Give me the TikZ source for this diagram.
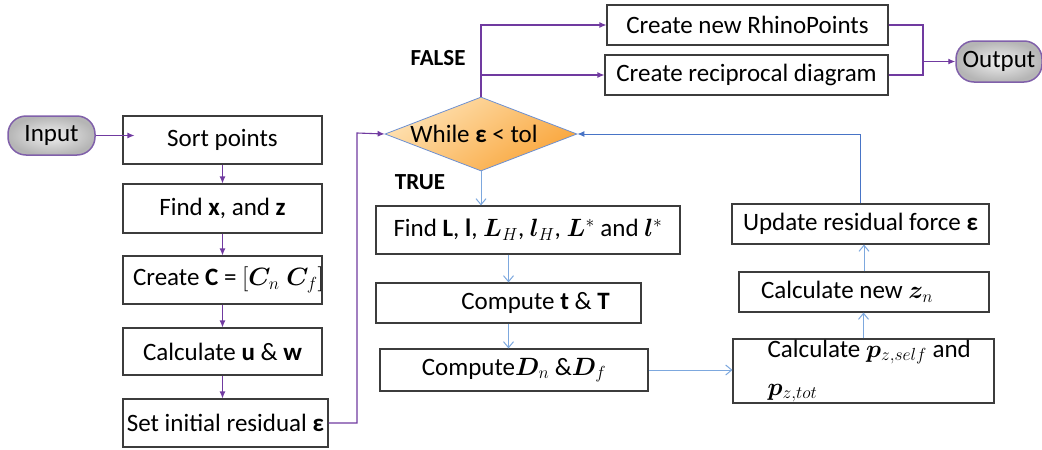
\documentclass[tikz,border=0pt]{standalone}
\usepackage{fix-cm}
\usepackage{amsmath,bm}
\usepackage{fontspec}
\setmainfont{Carlito}
\usetikzlibrary{shapes.geometric,arrows.meta}

\definecolor{flowpurple}{RGB}{112,58,160}
\definecolor{flowblue}{RGB}{125,168,222}
\definecolor{loopblue}{RGB}{72,116,198}
\definecolor{boxline}{RGB}{60,60,60}
\definecolor{orangelight}{RGB}{254,226,180}
\definecolor{orangedark}{RGB}{249,165,58}
\definecolor{pillborder}{RGB}{128,96,170}

\tikzset{
  txt/.style={font=\fontsize{25}{29}\selectfont},
  stepbox/.style={draw=boxline, line width=1.1pt, rectangle, inner sep=0pt, txt},
  pill/.style={draw=pillborder, line width=1.5pt, rectangle, rounded corners=18pt,
    inner sep=0pt, inner color=gray!12, outer color=gray!58, txt},
  decision/.style={diamond, draw=loopblue!80, line width=0.8pt, inner sep=0pt,
    top color=orangelight, bottom color=orangedark, shading angle=35},
  parr/.style={draw=flowpurple, line width=1.1pt, -{Latex[length=7pt,width=6pt]}},
  pline/.style={draw=flowpurple, line width=1.1pt},
  barr/.style={draw=flowblue, line width=1pt, -{Straight Barb[length=6pt,width=10pt]}},
  loop/.style={draw=loopblue, line width=1pt, -{Latex[length=7pt,width=6pt]}},
  tag/.style={font=\fontsize{23}{27}\selectfont\bfseries},
}

\begin{document}
\begin{tikzpicture}[x=1pt,y=-1pt]
\useasboundingbox (0,0) rectangle (1042,450);

% start / end terminals
\node[pill, minimum width=87pt, minimum height=39pt] (input) at (51.5,135.5) {Input};
\node[pill, minimum width=86pt, minimum height=41pt] (output) at (999,61.5) {Output};

% preparation column
\node[stepbox, minimum width=199pt, minimum height=48pt] (sort) at (222.5,140) {Sort points};
\node[stepbox, minimum width=199pt, minimum height=49pt] (findxz) at (222.5,208.5) {Find \textbf{x}, and \textbf{z}};
\node[stepbox, minimum width=199pt, minimum height=48pt,
  label={[xshift=6pt, txt]center:Create \textbf{C} = $[\bm{C}_n\;\bm{C}_f]$}] (createC) at (222.5,280) {};
\node[stepbox, minimum width=199pt, minimum height=47pt] (calcuw) at (222.5,351.5) {Calculate \textbf{u} \& \textbf{w}};
\node[stepbox, minimum width=205pt, minimum height=48pt] (setres) at (225.5,423) {Set initial residual \textbf{ε}};

% loop test
\node[decision, minimum width=192pt, minimum height=74pt,
  label={[xshift=-7pt, txt]center:While \textbf{ε} < tol}] (dia) at (481,134) {};

% exit branch
\node[stepbox, minimum width=281pt, minimum height=40pt] (rhino) at (747.5,25) {Create new RhinoPoints};
\node[stepbox, minimum width=283pt, minimum height=40pt] (recip) at (746.5,75) {Create reciprocal diagram};

% loop body
\node[stepbox, minimum width=304pt, minimum height=48pt] (findL) at (528,230)
  {Find \textbf{L}, \textbf{l}, $\bm{L}_H$, $\bm{l}_H$, $\bm{L}^*$ and $\bm{l}^*$};
\node[stepbox, minimum width=265pt, minimum height=40pt,
  label={[xshift=27pt, txt]center:Compute \textbf{t} \& \textbf{T}}] (computeT) at (508.5,303) {};
\node[stepbox, minimum width=268pt, minimum height=42pt] (computeD) at (514,370)
  {Compute$\bm{D}_n\ \&\bm{D}_f$};
\node[stepbox, minimum width=261pt, minimum height=64pt,
  label={[anchor=west, xshift=35pt, inner sep=0pt, align=left,
    font=\fontsize{25}{38}\selectfont]west:Calculate $\bm{p}_{z,self}$ and\\$\bm{p}_{z,tot}$}] (calcp) at (863.5,371) {};
\node[stepbox, minimum width=250pt, minimum height=40pt,
  label={[xshift=-17pt, txt]center:Calculate new $\bm{z}_n$}] (newz) at (864,292) {};
\node[stepbox, minimum width=257pt, minimum height=40pt] (update) at (860.5,224) {Update residual force \textbf{ε}};

% branch labels
\node[tag] (lfalse) at (438,58) {FALSE};
\node[tag] (ltrue) at (420,182) {TRUE};

% preparation connectors
\draw[parr, shorten >=-12pt] (input.east) -- (input.east -| sort.west);
\draw[parr] (sort.south) -- (findxz.north);
\draw[parr] (findxz.south) -- (createC.north);
\draw[parr] (createC.south) -- (calcuw.north);
\draw[parr] (calcuw.south) -- (calcuw.south |- setres.north);
\coordinate (upturn) at (357,133);
\draw[parr] (setres.east) -| (upturn) -- (dia.west);

% exit connectors
\draw[parr] (dia.north) |- (rhino.west);
\draw[parr] (dia.north |- recip.west) -- (recip.west);
\coordinate (merge) at (923,61.5);
\draw[pline] (rhino.east) -| (merge) |- (recip.east);
\draw[parr] (merge) -- (output.west);

% loop connectors
\draw[barr] (dia.south) -- (dia.south |- findL.north);
\draw[barr] (computeT.north |- findL.south) -- (computeT.north);
\draw[barr] (computeT.south) -- (computeT.south |- computeD.north);
\draw[barr] (computeD.east) -- (computeD.east -| calcp.west);
\draw[barr] (calcp.north) -- (calcp.north |- newz.south);
\draw[barr] (newz.north) -- (newz.north |- update.south);
\draw[loop] (update.north) |- (dia.east);
\end{tikzpicture}
\end{document}
